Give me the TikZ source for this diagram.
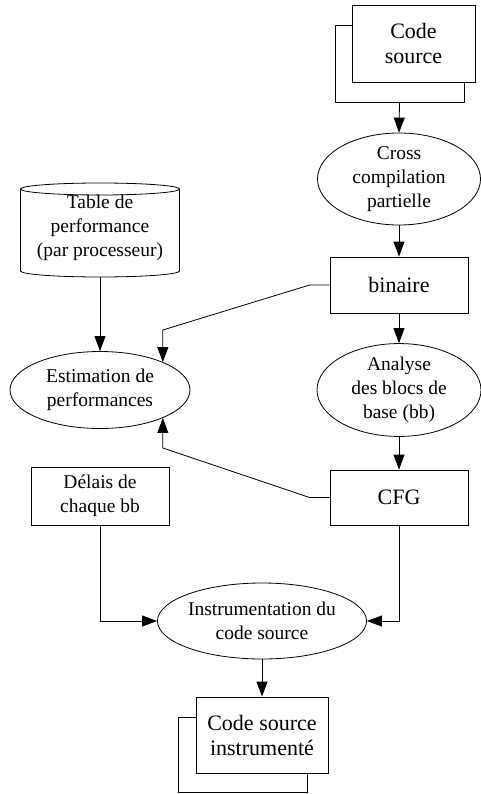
\documentclass[tikz,border=0pt]{standalone}
\usepackage{fontspec}
\setmainfont{Liberation Serif}
\usetikzlibrary{arrows.meta,shapes.geometric}
\begin{document}
\begin{tikzpicture}[x=1pt,y=-1pt,
  every path/.style={line width=0.8pt},
  small/.style={font=\fontsize{19.5}{24}\selectfont},
  big/.style={font=\fontsize{22}{25}\selectfont},
  box/.style={draw,rectangle,inner sep=0pt,align=center,fill=white},
  oval/.style={draw,ellipse,inner sep=0pt,align=center,small},
  arr/.style={-{Triangle[length=15pt,width=11pt]}}]
\useasboundingbox (0,0) rectangle (480,794);
% Code source (top)
\node[box,minimum width=129pt,minimum height=77pt] (csb) at (399.5,63.5) {};
\node[box,big,minimum width=123pt,minimum height=77pt] (csf) at (413.5,43.5) {Code\\source};
\node[oval,minimum width=163pt,minimum height=76pt] (cross) at (399,179) {Cross\\compilation\\partielle};
\node[box,big,minimum width=138pt,minimum height=56pt] (bin) at (399,285) {binaire};
\node[oval,minimum width=164pt,minimum height=76pt] (ana) at (399,390) {Analyse\\des blocs de\\base (bb)};
\node[box,big,minimum width=138pt,minimum height=55pt] (cfg) at (399,497.5) {CFG};
% Table (cylinder)
\draw (20.5,189) -- (20.5,271) arc[start angle=180,end angle=360,x radius=79.5pt,y radius=6pt] -- (179.5,189);
\draw (100,189) ellipse[x radius=79.5pt,y radius=6pt];
\node[small,align=center] (tab) at (100,228) {Table de\\performance\\(par processeur)};
\coordinate (tabbot) at (100,277);
\node[oval,minimum width=180pt,minimum height=77pt] (est) at (100,390) {Estimation de\\performances};
\node[box,small,minimum width=138pt,minimum height=58pt] (del) at (100,496) {Délais de\\chaque bb};
\node[oval,minimum width=187pt,minimum height=76pt] (inst) at (262,621) {Instrumentation du\\code source};
\node[box,minimum width=129pt,minimum height=75pt] (csib) at (242.5,754.5) {};
\node[box,big,minimum width=132pt,minimum height=76pt] (csif) at (262,735) {Code source\\instrumenté};
% connectors
\coordinate (k1) at (0,330);
\coordinate (k2) at (0,448);
\draw[arr] (csb.south) -- (cross.north);
\draw[arr] (cross.south) -- (bin.north);
\draw[arr] (bin.south) -- (ana.north);
\draw[arr] (ana.south) -- (cfg.north);
\draw[arr] (tabbot) -- (est.north);
\draw[arr] (bin.west) -- ++(-20,0) -- (est.24 |- k1) -- (est.24);
\draw[arr] (cfg.west) -- ++(-20,0) -- (est.-24 |- k2) -- (est.-24);
\draw[arr] (del.south) |- (inst.west);
\draw[arr] (cfg.south) |- (inst.east);
\draw[arr] (inst.south) -- (csif.north);
\end{tikzpicture}
\end{document}
